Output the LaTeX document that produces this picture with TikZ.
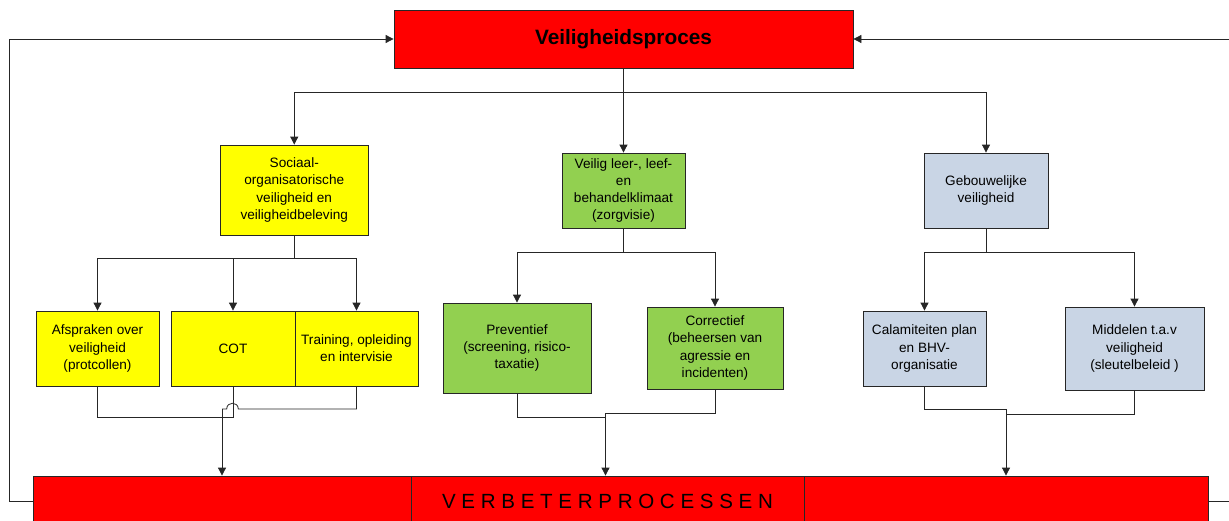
\documentclass[tikz,border=0pt]{standalone}
\usepackage{fontspec}
\setmainfont{Liberation Sans}
\usetikzlibrary{arrows.meta,shadows}
\definecolor{cred}{HTML}{FF0000}
\definecolor{cyel}{HTML}{FFFF00}
\definecolor{cgrn}{HTML}{92D050}
\definecolor{cblu}{HTML}{C9D5E5}
\begin{document}
\begin{tikzpicture}[x=0.75pt,y=-0.75pt,
  box/.style={draw=black!85, line width=0.6pt, align=center, inner sep=0pt,
    font=\fontsize{10.2}{12.8}\selectfont,
    general shadow={fill=black!35, shadow xshift=1pt, shadow yshift=-1pt}},
  conn/.style={draw=black!85, line width=0.6pt},
  arr/.style={conn, -{Triangle[length=6pt,width=6pt]}}]
\useasboundingbox (0,0) rectangle (1229,521);
\clip (0,0) rectangle (1229,521);

% top
\node[box, fill=cred, minimum width=344.25pt, minimum height=43.5pt,
  font=\fontsize{15.6}{18}\selectfont\bfseries] (top) at (623.5,39) {Veiligheidsproces};

% bottom bar
\node[box, fill=cred, minimum width=283.5pt, minimum height=37.5pt] (bL) at (222,501) {};
\node[box, fill=cred, minimum width=294.75pt, minimum height=37.5pt,
  font=\fontsize{15.4}{18}\selectfont] (bM) at (607.5,501) {V E R B E T E R P R O C E S S E N};
\node[box, fill=cred, minimum width=303pt, minimum height=37.5pt] (bR) at (1006,501) {};

% level 1
\node[box, fill=cyel, minimum width=110.6pt, minimum height=67.5pt] (s1) at (294.25,190)
  {Sociaal-\\organisatorische\\veiligheid en\\veiligheidbeleving};
\node[box, fill=cgrn, minimum width=92.25pt, minimum height=56.25pt] (s2) at (623.5,190.5)
  {Veilig leer-, leef-\\en\\behandelklimaat\\(zorgvisie)};
\node[box, fill=cblu, minimum width=93pt, minimum height=56.25pt] (s3) at (986,190.5)
  {Gebouwelijke\\veiligheid};

% level 2
\node[box, fill=cyel, minimum width=92.25pt, minimum height=56.25pt] (a1) at (97.5,348.5)
  {Afspraken over\\veiligheid\\(protcollen)};
\node[box, fill=cyel, minimum width=93pt, minimum height=56.25pt] (a2) at (233,348.5) {COT};
\node[box, fill=cyel, minimum width=92.25pt, minimum height=56.25pt] (a3) at (356.5,348.5)
  {Training, opleiding\\en intervisie};
\node[box, fill=cgrn, minimum width=111pt, minimum height=67.5pt] (p1) at (517,348)
  {Preventief\\(screening, risico-\\taxatie)};
\node[box, fill=cgrn, minimum width=102pt, minimum height=61.5pt] (p2) at (715,348)
  {Correctief\\(beheersen van\\agressie en\\incidenten)};
\node[box, fill=cblu, minimum width=92.25pt, minimum height=56.25pt] (c1) at (924.5,348.5)
  {Calamiteiten plan\\en BHV-\\organisatie};
\node[box, fill=cblu, minimum width=104.25pt, minimum height=62.25pt] (c2) at (1134.5,348.5)
  {Middelen t.a.v\\veiligheid\\(sleutelbeleid )};

% junction coordinates
\coordinate (j1) at (623.5,92);
\coordinate (j2) at (294.25,258);
\coordinate (j3) at (623.5,252);
\coordinate (j4) at (986,252);
\coordinate (yj) at (222,409);
\coordinate (gj) at (605.5,413);
\coordinate (bj) at (1006,409);

% top to level 1
\draw[arr] (top.south) -- (s2.north);
\draw[arr] (j1) -| (s1.north);
\draw[arr] (j1) -| (s3.north);

% level 1 to level 2
\draw[conn] (s1.south) -- (j2);
\draw[arr] (j2) -| (a1.north);
\draw[arr] (j2) -| (a3.north);
\draw[arr] (a2.north |- j2) -- (a2.north);
\draw[conn] (s2.south) -- (j3);
\draw[arr] (j3) -| (p1.north);
\draw[arr] (j3) -| (p2.north);
\draw[conn] (s3.south) -- (j4);
\draw[arr] (j4) -| (c1.north);
\draw[arr] (j4) -| (c2.north);

% level 2 to bottom bar
\draw[conn] (a1.south) |- (a2.south |- 0,417) -- (a2.south);
\draw[conn] (a3.south) |- (238.3,409) .. controls (238.3,401.3) and (226.7,401.3) .. (226.7,409) -- (yj);
\draw[arr] (yj) -- (yj |- bL.north);
\draw[conn] (p1.south) |- (605.5,417);
\draw[conn] (p2.south) |- (gj);
\draw[arr] (gj) -- (gj |- bM.north);
\draw[conn] (c1.south) |- (bj);
\draw[conn] (c2.south) |- (1006,414);
\draw[arr] (bj) -- (bj |- bR.north);

% feedback loops
\draw[arr] (bL.west) -- (9.5,501) |- (top.west);
\draw[arr] (bR.east) -- (1230,501) |- (top.east);
\end{tikzpicture}
\end{document}
